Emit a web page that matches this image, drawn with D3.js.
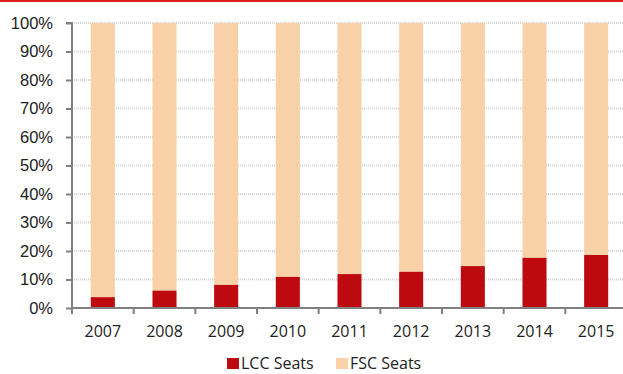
<!DOCTYPE html>
<html>
<head>
<meta charset="utf-8">
<script src="https://cdn.jsdelivr.net/npm/d3@7"></script>
<style>
  body { margin: 0; background: #fff; }
  svg { display: block; font-family: "Open Sans", "Noto Sans", sans-serif; }
</style>
</head>
<body>
<svg id="chart" width="623" height="374"></svg>
<script>
var years = ["2007", "2008", "2009", "2010", "2011", "2012", "2013", "2014", "2015"];
var lccShare = [3.8, 6.1, 8.1, 10.9, 11.9, 12.7, 14.7, 17.6, 18.6];
var fscShare = lccShare.map(function(v) { return 100 - v; });
var yTicks = [0, 10, 20, 30, 40, 50, 60, 70, 80, 90, 100];
var seriesNames = ["LCC Seats", "FSC Seats"];
var seriesColors = ["#BD0A10", "#F9D1A9"];

var svg = d3.select("#chart");

// red rule along the top
svg.append("rect")
    .attr("x", 0).attr("y", 0)
    .attr("width", 623).attr("height", 2)
    .attr("fill", "#E0201B");

var x = d3.scaleBand()
    .domain(years)
    .range([72, 627])
    .paddingInner(0.61)
    .paddingOuter(0.305);

var y = d3.scaleLinear()
    .domain([0, 100])
    .range([308, 23]);

// gridlines
svg.append("g")
    .selectAll("line")
    .data(yTicks.slice(1))
    .enter().append("line")
    .attr("x1", 72).attr("x2", 623)
    .attr("y1", function(d) { return y(d); })
    .attr("y2", function(d) { return y(d); })
    .attr("stroke", "#d4d4d4")
    .attr("stroke-width", 2)
    .attr("stroke-dasharray", "1,1");

// bars
var stacked = years.map(function(yr, i) {
    return { year: yr, lcc: lccShare[i], fsc: fscShare[i] };
});

svg.append("g")
    .selectAll("rect")
    .data(stacked)
    .enter().append("rect")
    .attr("x", function(d) { return x(d.year); })
    .attr("width", x.bandwidth())
    .attr("y", function(d) { return y(d.lcc + d.fsc); })
    .attr("height", function(d) { return y(d.lcc) - y(d.lcc + d.fsc); })
    .attr("fill", seriesColors[1]);

svg.append("g")
    .selectAll("rect")
    .data(stacked)
    .enter().append("rect")
    .attr("x", function(d) { return x(d.year); })
    .attr("width", x.bandwidth())
    .attr("y", function(d) { return y(d.lcc); })
    .attr("height", function(d) { return y(0) - y(d.lcc); })
    .attr("fill", seriesColors[0]);

// y axis
var yAxis = svg.append("g")
    .attr("transform", "translate(72,0)")
    .call(d3.axisLeft(y).tickValues(yTicks).tickSize(6).tickPadding(13)
        .tickFormat(function(d) { return d + "%"; }));
yAxis.select(".domain").attr("stroke", "#808080").attr("stroke-width", 2)
    .attr("d", "M-6," + y(100) + "H0V" + y(0));
yAxis.selectAll(".tick line").attr("stroke", "#808080").attr("stroke-width", 2);
yAxis.selectAll(".tick text").attr("font-size", 16.5).attr("fill", "#222");

// x axis, ticks on category boundaries
var step = x.step();
var boundaries = d3.range(years.length + 1).map(function(i) { return 72 + i * step; });
var xg = svg.append("g");
xg.append("line")
    .attr("x1", 72).attr("x2", 623)
    .attr("y1", y(0)).attr("y2", y(0))
    .attr("stroke", "#808080").attr("stroke-width", 2);
xg.selectAll(".bt")
    .data(boundaries)
    .enter().append("line")
    .attr("class", "bt")
    .attr("x1", function(d) { return d; }).attr("x2", function(d) { return d; })
    .attr("y1", y(0)).attr("y2", y(0) + 6)
    .attr("stroke", "#808080").attr("stroke-width", 2);
xg.selectAll("text")
    .data(years)
    .enter().append("text")
    .attr("x", function(d) { return x(d) + x.bandwidth() / 2; })
    .attr("y", 337)
    .attr("text-anchor", "middle")
    .attr("font-size", 16)
    .attr("fill", "#222")
    .text(function(d) { return d; });

// legend (nudged up a little so the text is not clipped)
var legendX = [227, 336];
var legend = svg.append("g");
seriesNames.forEach(function(name, i) {
    legend.append("rect")
        .attr("x", legendX[i]).attr("y", 358)
        .attr("width", 12).attr("height", 11)
        .attr("fill", seriesColors[i]);
    legend.append("text")
        .attr("x", legendX[i] + 14).attr("y", 369)
        .attr("font-size", 16)
        .attr("fill", "#222")
        .text(name);
});
</script>
</body>
</html>
